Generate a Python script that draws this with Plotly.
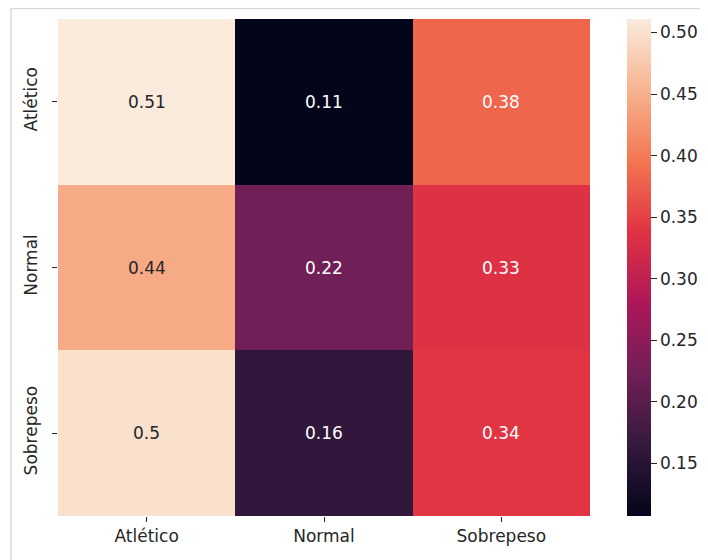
import plotly.graph_objects as go

categories = ["Atlético", "Normal", "Sobrepeso"]
row_labels = ["Atlético", "Normal", "Sobrepeso"]
values = [
    [0.511, 0.107, 0.382],
    [0.444, 0.222, 0.333],
    [0.50, 0.16, 0.34],
]
cbar_ticks = [0.15, 0.20, 0.25, 0.30, 0.35, 0.40, 0.45, 0.50]

rocket = [
    [0.0, "#03051A"],
    [1/7, "#35193E"],
    [2/7, "#701F57"],
    [3/7, "#AD1759"],
    [4/7, "#E13342"],
    [5/7, "#F37651"],
    [6/7, "#F6B48F"],
    [1.0, "#FAEBDD"],
]

zmin = min(min(r) for r in values)
zmax = max(max(r) for r in values)
FS = 17

fig = go.Figure()
fig.add_trace(go.Heatmap(
    z=values, x=categories, y=row_labels,
    colorscale=rocket, zmin=zmin, zmax=zmax,
    showscale=True, hoverinfo="skip",
    colorbar=dict(
        x=1.0695, xanchor="left", xref="paper",
        y=0.5, yanchor="middle", len=1.0, lenmode="fraction",
        thickness=24, outlinewidth=0, xpad=0, ypad=0,
        tickvals=cbar_ticks, tickformat=".2f",
        ticks="outside", ticklen=6, tickwidth=1,
        tickcolor="#262626",
        tickfont=dict(family="DejaVu Sans", size=FS, color="#262626"),
    ),
))

annotations = []
for i, r in enumerate(row_labels):
    for j, c in enumerate(categories):
        v = values[i][j]
        t = (v - zmin) / (zmax - zmin)
        col = "#262626" if t > 0.75 else "#FFFFFF"
        annotations.append(dict(
            x=c, y=r, xref="x", yref="y", text=format(v, ".2g"),
            showarrow=False,
            font=dict(family="DejaVu Sans", size=FS, color=col),
        ))

fig.update_layout(
    width=700, height=552,
    margin=dict(l=50, r=118, t=11, b=44, autoexpand=False),
    paper_bgcolor="white", plot_bgcolor="white",
    annotations=annotations,
    shapes=[dict(type="rect", xref="paper", yref="paper",
                 x0=-47/532, x1=700/532, y0=-80/497, y1=1 + 10.5/497,
                 line=dict(color="#D9D9D9", width=1.5), layer="below")],
    font=dict(family="DejaVu Sans", size=FS, color="#262626"),
)
fig.update_xaxes(showgrid=False, zeroline=False, ticks="outside", ticklen=5,
                 tickcolor="#262626", showline=False,
                 tickfont=dict(family="DejaVu Sans", size=FS, color="#262626"))
fig.update_yaxes(showgrid=False, zeroline=False, ticks="outside", ticklen=5,
                 tickcolor="#262626", autorange="reversed", tickangle=-90,
                 showline=False, ticklabelstandoff=8,
                 tickfont=dict(family="DejaVu Sans", size=FS, color="#262626"))

fig.write_html("out.html")
